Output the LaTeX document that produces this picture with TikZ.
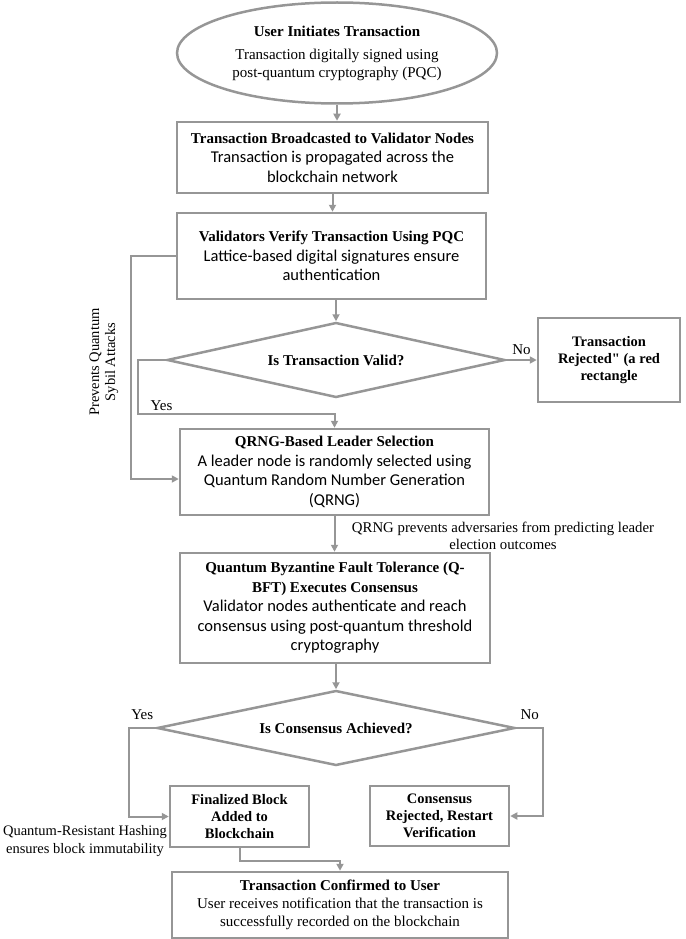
\documentclass[tikz,border=0pt]{standalone}
\usepackage{fontspec}
\setmainfont{Liberation Serif}[Ligatures=TeXOff]
\newfontfamily\bodyfont{Carlito}[Scale=1.1]
\usetikzlibrary{positioning,shapes.geometric,arrows.meta}
\definecolor{linegray}{RGB}{150,150,150}

\begin{document}
\begin{tikzpicture}[x=1pt, y=-1pt,
    font=\fontsize{15}{18}\selectfont,
    box/.style = {draw=linegray, line width=2.5pt, align=center, inner sep=0pt},
    pqcbox/.style = {box, font=\fontsize{15}{19.5}\selectfont},
    smallbox/.style = {box, font=\fontsize{14.5}{17}\selectfont\bfseries},
    decision/.style = {draw=linegray, line width=2.5pt, diamond, align=center, inner sep=0pt, font=\fontsize{15}{18}\selectfont\bfseries},
    startnode/.style = {draw=linegray, line width=2.5pt, ellipse, align=center, inner sep=0pt},
    note/.style = {align=center, inner sep=0pt},
    flow/.style = {draw=linegray, line width=2pt, -{Triangle[length=7pt,width=7pt]}}]
    \useasboundingbox (0,0) rectangle (685,939);

    % main column
    \node[startnode, minimum width=320pt, minimum height=101pt] (start) at (337,53)
        {\textbf{User Initiates Transaction}\\[5pt]Transaction digitally signed using\\post-quantum cryptography (PQC)};
    \node[pqcbox, minimum width=311pt, minimum height=71pt] (bcast) at (332.5,157.5)
        {\textbf{Transaction Broadcasted to Validator Nodes}\\{\bodyfont Transaction is propagated across the}\\{\bodyfont blockchain network}};
    \node[pqcbox, minimum width=309pt, minimum height=86pt] (verify) at (331.5,256)
        {\textbf{Validators Verify Transaction Using PQC}\\{\bodyfont Lattice-based digital signatures ensure}\\{\bodyfont authentication}};
    \node[decision, aspect=4.5, minimum width=338pt, minimum height=75pt] (valid) at (336,360) {Is Transaction Valid?};
    \node[smallbox, minimum width=142pt, minimum height=84pt] (reject) at (609,360)
        {Transaction\\Rejected" (a red\\rectangle};
    \node[pqcbox, minimum width=309pt, minimum height=86pt] (leader) at (334.5,472)
        {\textbf{QRNG-Based Leader Selection}\\{\bodyfont A leader node is randomly selected using}\\{\bodyfont Quantum Random Number Generation}\\{\bodyfont (QRNG)}};
    \node[pqcbox, minimum width=310pt, minimum height=110pt] (bft) at (335,608)
        {\textbf{Quantum Byzantine Fault Tolerance (Q-}\\\textbf{BFT) Executes Consensus}\\{\bodyfont Validator nodes authenticate and reach}\\{\bodyfont consensus using post-quantum threshold}\\{\bodyfont cryptography}};
    \node[decision, aspect=4.8, minimum width=358pt, minimum height=75pt] (agree) at (336,728) {Is Consensus Achieved?};
    \node[smallbox, minimum width=139pt, minimum height=61pt] (blockf) at (239.5,816.5)
        {Finalized Block\\Added to\\Blockchain};
    \node[smallbox, minimum width=139pt, minimum height=60pt] (restart) at (439.5,816)
        {Consensus\\Rejected, Restart\\Verification};
    \node[box, minimum width=336pt, minimum height=66pt] (done) at (340,905)
        {\textbf{Transaction Confirmed to User}\\User receives notification that the transaction is\\successfully recorded on the blockchain};

    % side notes
    \node[note, rotate=90, font=\fontsize{14.5}{16}\selectfont] (sybil_lbl) at (104,362) {Prevents Quantum\\Sybil Attacks};
    \node[note, font=\fontsize{14.8}{17}\selectfont] (qrng_note) at (503,535.5)
        {QRNG prevents adversaries from predicting leader\\election outcomes};
    \node[note, font=\fontsize{14.5}{18}\selectfont] (hash_note) at (85,841)
        {Quantum-Resistant Hashing\\ensures block immutability};

    \coordinate (yes_c) at (138,414);
    \coordinate (sybil_c) at (131,479);

    % connectors
    \draw[flow] (start.south) -- (start.south |- bcast.north);
    \draw[flow] (bcast.south) -- (bcast.south |- verify.north);
    \draw[flow] (valid.north |- verify.south) -- (valid.north);
    \draw[flow] (valid.east) -- node[above, yshift=1pt] {No} (reject.west);
    \draw[flow] (valid.west) -| (yes_c) -- node[pos=0.12, above, yshift=-1pt] {Yes} (yes_c -| leader.north) -- (leader.north);
    \draw[flow] (verify.west) -| (sybil_c) -- (sybil_c -| leader.west);
    \draw[flow] (leader.south) -- (leader.south |- bft.north);
    \draw[flow] (agree.north |- bft.south) -- (agree.north);
    \draw[flow] (agree.west) -- node[above, yshift=4pt] {Yes} ++(-27,0) |- (blockf.west);
    \draw[flow] (agree.east) -- node[above, yshift=4pt] {No} ++(27,0) |- (restart.east);
    \draw[flow] (blockf.south) -- ++(0,13) -| (done.north);
\end{tikzpicture}
\end{document}
